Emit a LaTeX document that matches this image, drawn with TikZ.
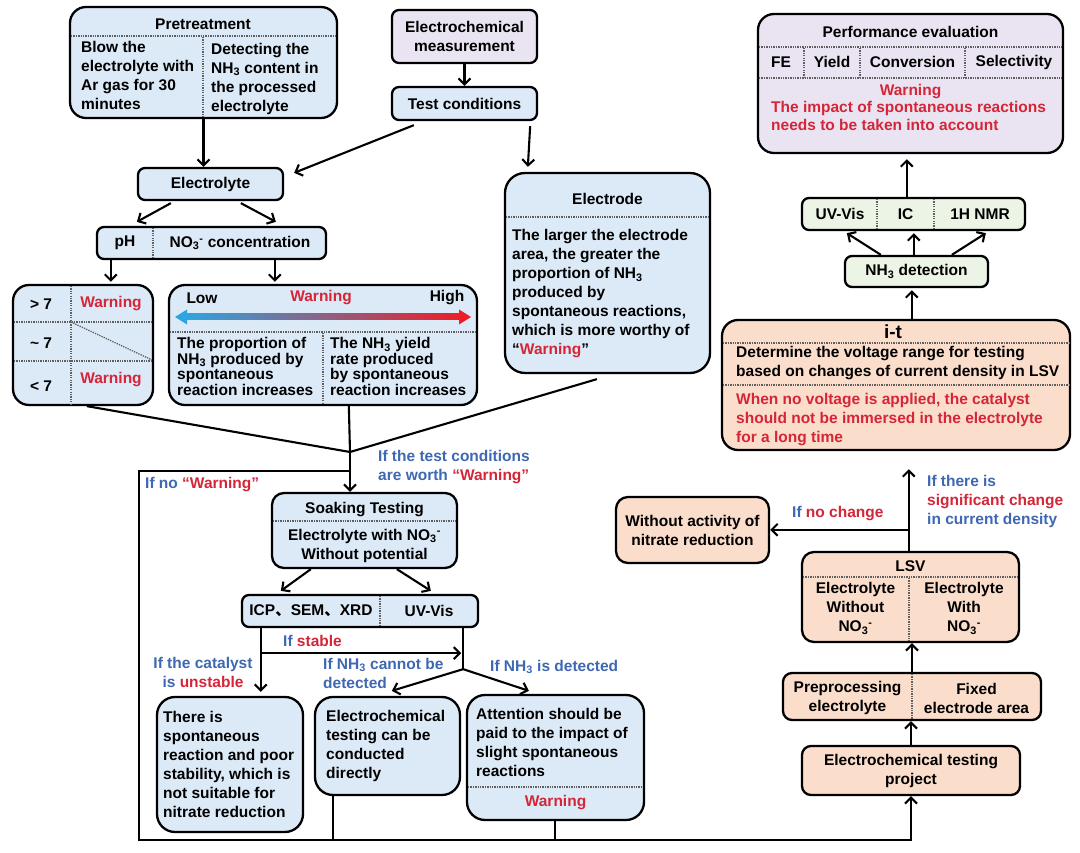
\documentclass[tikz,border=0pt]{standalone}
\usepackage{fontspec}
\setmainfont{Liberation Sans}
\newfontfamily\cjk{Noto Sans CJK SC}
\usetikzlibrary{arrows.meta,calc,fit}
\definecolor{cblue}{RGB}{220,233,246}
\definecolor{clav}{RGB}{234,228,242}
\definecolor{cpeach}{RGB}{251,221,203}
\definecolor{cgreen}{RGB}{236,244,229}
\definecolor{cred}{RGB}{212,38,56}
\definecolor{clab}{RGB}{62,104,178}
\definecolor{dgray}{RGB}{95,95,95}
\definecolor{gl}{RGB}{45,165,225}
\definecolor{gm}{RGB}{165,100,165}
\definecolor{gr}{RGB}{236,30,40}
\newcommand\fs{\fontsize{15.5}{19}\selectfont\bfseries}
\newcommand\fsb{\fontsize{15.5}{15.7}\selectfont\bfseries}
\newcommand\fsr{\fontsize{15.5}{18}\selectfont\bfseries}
\newcommand\NHt{NH\textsubscript{3}}
\newcommand\NOt{NO\textsubscript{3}\textsuperscript{-}}
\begin{document}
\begin{tikzpicture}[x=1pt,y=-1pt,
  bxs/.style={draw=black, line width=2.3pt, inner sep=0pt, rounded corners=7pt},
  bigr/.style={rounded corners=16pt},
  fb/.style={fill=cblue}, fl/.style={fill=clav}, fp/.style={fill=cpeach}, fg/.style={fill=cgreen},
  tx/.style={inner sep=0pt, font=\fs, text=black},
  tl/.style={tx, align=left, anchor=west},
  tc/.style={tx, align=center},
  lab/.style={text=clab},
  dv/.style={draw=dgray, line width=1.3pt, dash pattern=on 1.3pt off 1.1pt},
  arr/.style={draw=black, line width=2.1pt, -{Straight Barb[length=6pt,width=12pt]}},
  ln/.style={draw=black, line width=2.1pt}
]
\fill[white] (0,0) rectangle (1080,853);
\useasboundingbox (0,0) rectangle (1080,853);

% ---------- Pretreatment
\node[bxs,fb,bigr,fit={(70,7)(337,118)}] (pre) {};
\draw[dv] (71,36) -- (336,36);
\draw[dv] (203,37) -- (203,117);
\node[tc] (preT) at (203,24) {Pretreatment};
\node[tl] (preL) at (81,75.5) {Blow the\\electrolyte with\\Ar gas for 30\\minutes};
\node[tl] (preR) at (211,78.5) {Detecting the\\\NHt{} content in\\the processed\\electrolyte};

% ---------- Electrochemical measurement / Test conditions
\node[bxs,fl,fit={(392,10)(537,63)}] (em) {};
\node[tc] (emT) at (em.center) {Electrochemical\\measurement};
\node[bxs,fb,fit={(392,87)(537,120)}] (tcn) {};
\node[tc] (tcT) at (tcn.center) {Test conditions};

% ---------- Electrolyte
\node[bxs,fb,fit={(138,168)(283,200)}] (ely) {};
\node[tc] (elyT) at (ely.center) {Electrolyte};

% ---------- pH / NO3
\node[bxs,fb,fit={(97,227)(326,259)}] (pn) {};
\draw[dv] (153,228) -- (153,258);
\node[tc] (pnA) at (125,243) {pH};
\node[tc] (pnB) at (240,243) {\NOt{} concentration};

% ---------- pH box
\node[bxs,fb,bigr,fit={(13,285)(153,405)}] (phb) {};
\draw[dv] (71,286) -- (71,404);
\draw[dv] (14,322) -- (152,322);
\draw[dv] (14,361) -- (152,361);
\draw[dv] (71,322) -- (152,360);
\node[tc] (ph1) at (41,304) {> 7};
\node[tc,text=cred] (ph1w) at (111,304) {Warning};
\node[tc] (ph2) at (41,343) {\textasciitilde{} 7};
\node[tc] (ph3) at (41,386) {< 7};
\node[tc,text=cred] (ph3w) at (111,380) {Warning};

% ---------- NO3 concentration box
\node[bxs,fb,bigr,fit={(169,285)(477,405)}] (nob) {};
\draw[dv] (170,332) -- (476,332);
\draw[dv] (323,333) -- (323,404);
\shade[left color=gl, middle color=gm, right color=gr] (185,314) rectangle (461,320);
\fill[gl] (175,317) -- (187,309.5) -- (187,324.5) -- cycle;
\fill[gr] (471,317) -- (459,309.5) -- (459,324.5) -- cycle;
\node[tc] (low) at (202,298) {Low};
\node[tc,text=cred] (nobW) at (321,298) {Warning};
\node[tc] (high) at (447,298) {High};
\node[tl,font=\fsb] (nobL) at (177,366.5) {The proportion of\\\NHt{} produced by\\spontaneous\\reaction increases};
\node[tl,font=\fsb] (nobR) at (330,366.5) {The \NHt{} yield\\rate produced\\by spontaneous\\reaction increases};

% ---------- Electrode
\node[bxs,fb,rounded corners=20pt,fit={(505,173)(710,373)}] (elec) {};
\draw[dv] (506,217) -- (709,217);
\node[tc] (elecT) at (607.5,199) {Electrode};
\node[tl] (elecB) at (512,293.5) {The larger the electrode\\area, the greater the\\proportion of \NHt\\produced by\\spontaneous reactions,\\which is more worthy of\\“{\color{cred}Warning}”};

% ---------- Soaking
\coordinate (m) at (350,452);
\coordinate (m1) at (350,471);
\coordinate (lb) at (139,840);
\node[bxs,fb,rounded corners=12pt,fit={(272,493)(457,568)}] (soak) {};
\draw[dv] (273,521) -- (456,521);
\node[tc] (soakT) at (364.5,510) {Soaking Testing};
\node[tc] (soakB) at (364.5,545.5) {Electrolyte with \NOt\\Without potential};

\node[bxs,fb,fit={(242,595)(478,627)}] (icp) {};
\draw[dv] (380,596) -- (380,626);
\node[tc] (icpA) at (311,611) {ICP{\cjk 、}SEM{\cjk 、}XRD};
\node[tc] (icpB) at (429,611) {UV-Vis};

% ---------- bottom boxes
\node[bxs,fb,rounded corners=18pt,fit={(157,697)(303,832)}] (sp) {};
\node[tl] (spT) at (163,764) {There is\\spontaneous\\reaction and poor\\stability, which is\\not suitable for\\nitrate reduction};
\node[bxs,fb,rounded corners=18pt,fit={(315,697)(460,795)}] (ec) {};
\node[tl] (ecT) at (326,745.5) {Electrochemical\\testing can be\\conducted\\directly};
\node[bxs,fb,rounded corners=18pt,fit={(467,695)(644,820)}] (att) {};
\draw[dv] (468,787) -- (643,787);
\node[tl] (attT) at (476,742) {Attention should be\\paid to the impact of\\slight spontaneous\\reactions};
\node[tc,text=cred] (attW) at (555.5,803) {Warning};

% ---------- labels (left)
\node[tl,lab] (l1) at (378,467.5) {If the test conditions\\are worth {\color{cred}“Warning”}};
\node[tl,lab] (l2) at (145,485) {If no {\color{cred}“Warning”}};
\node[tl,lab] (l3) at (283,641) {If {\color{cred}stable}};
\node[tc,lab] (l4) at (203,672.5) {If the catalyst\\is {\color{cred}unstable}};
\node[tl,lab] (l5) at (323,673) {If \NHt{} cannot be\\detected};
\node[tl,lab] (l6) at (490,667) {If \NHt{} is detected};

% ---------- Performance evaluation
\node[bxs,fl,bigr,fit={(758,14)(1063,153)}] (perf) {};
\draw[dv] (759,47) -- (1062,47);
\draw[dv] (759,78) -- (1062,78);
\foreach \x in {804,860,965} \draw[dv] (\x,48) -- (\x,77);
\node[tc] (perfT) at (910.5,32) {Performance evaluation};
\node[tc] (pfa) at (781,62) {FE};
\node[tc] (pfb) at (832,62) {Yield};
\node[tc] (pfc) at (912.5,62) {Conversion};
\node[tc] (pfd) at (1014,62) {Selectivity};
\node[tc,text=cred] (perfW) at (910.5,92) {Warning};
\node[tl,text=cred,font=\fsr] (perfR) at (771,116) {The impact of spontaneous reactions\\needs to be taken into account};

% ---------- detection
\node[bxs,fg,fit={(802,198)(1025,230)}] (uv) {};
\draw[dv] (877,199) -- (877,229);
\draw[dv] (934,199) -- (934,229);
\node[tc] (uvA) at (840,214) {UV-Vis};
\node[tc] (uvB) at (905.5,214) {IC};
\node[tc] (uvC) at (980,214) {1H NMR};
\node[bxs,fg,fit={(845,256)(988,287)}] (nh) {};
\node[tc] (nhT) at (nh.center) {\NHt{} detection};

% ---------- i-t
\node[bxs,fp,bigr,fit={(722,320)(1070,450)}] (it) {};
\draw[dv] (723,343) -- (1069,343);
\draw[dv] (723,385) -- (1069,385);
\node[tc,font=\fontsize{19}{22}\selectfont\bfseries] (itT) at (893,332) {i-t};
\node[tl] (itB) at (736,363.5) {Determine the voltage range for testing\\based on changes of current density in LSV};
\node[tl,text=cred] (itR) at (736,420) {When no voltage is applied, the catalyst\\should not be immersed in the electrolyte\\for a long time};

% ---------- LSV etc
\node[bxs,fp,rounded corners=12pt,fit={(616,497)(769,563)}] (wa) {};
\node[tc] (waT) at (wa.center) {Without activity of\\nitrate reduction};
\node[bxs,fp,rounded corners=12pt,fit={(802,552)(1019,642)}] (lsv) {};
\draw[dv] (803,577) -- (1018,577);
\draw[dv] (909,578) -- (909,641);
\node[tc] (lsvT) at (910.5,566) {LSV};
\node[tc] (lsvA) at (855.5,608.5) {Electrolyte\\Without\\\NOt};
\node[tc] (lsvB) at (964,608.5) {Electrolyte\\With\\\NOt};
\node[bxs,fp,rounded corners=9pt,fit={(783,673)(1041,720)}] (prep) {};
\draw[dv] (912,674) -- (912,719);
\node[tc] (prA) at (847.5,698) {Preprocessing\\electrolyte};
\node[tc] (prB) at (976.5,698) {Fixed\\electrode area};
\node[bxs,fp,rounded corners=9pt,fit={(802,746)(1020,795)}] (proj) {};
\node[tc] (projT) at (proj.center) {Electrochemical testing\\project};
\node[tl,lab] (l7) at (792,514) {If {\color{cred}no change}};
\node[tl,lab] (l8) at (927,501) {If there is\\{\color{cred}significant change}\\in current density};

% ---------- connectors
\draw[arr] (em.south) -- (tcn.north);
\draw[arr] (pre.south) -- (pre.south |- ely.north);
\draw[arr] ($(tcn.south west)+(23,4)$) -- ($(ely.north east)+(10,6)$);
\draw[arr] ($(tcn.south east)+(-8,5)$) -- ($(elec.north west)+(24,-5)$);
\draw[arr] ($(ely.south west)+(34,2)$) -- ($(pn.north west)+(41,-4)$);
\draw[arr] ($(ely.south west)+(104,2)$) -- ($(pn.north west)+(180,-4)$);
\draw[arr] ($(pn.south west)+(15,0)$) -- ($(phb.north west)+(99,-2)$);
\draw[arr] ($(pn.south west)+(179,0)$) -- ($(nob.north west)+(107,-2)$);
\draw[ln] ($(phb.south west)+(75,0)$) -- (m);
\draw[ln] ($(nob.south west)+(181,0)$) -- (m);
\draw[ln] ($(elec.south west)+(93,5)$) -- (m);
\draw[arr] (m) -- (m |- soak.north);
\draw[arr] (m1) -| (lb) -| (proj.south);
\draw[ln] ($(ec.south west)+(19,0)$) -- ++(0,45);
\draw[ln] ($(att.south west)+(89,0)$) -- ++(0,20);
\draw[arr] ($(soak.south west)+(40,0)$) -- ($(icp.north west)+(40,-3)$);
\draw[arr] ($(soak.south west)+(126,0)$) -- ($(icp.north west)+(190,-3)$);
\draw[arr] ($(icp.south west)+(20,0)$) -- ($(sp.north west)+(105,-4)$);
\coordinate (st) at ($(icp.south west)+(20,25)$);
\draw[arr] (st) -- ($(icp.south east)+(-18,25)$);
\coordinate (fk) at ($(icp.south east)+(-16,41)$);
\draw[ln] ($(icp.south east)+(-16,0)$) -- (fk);
\draw[arr] (fk) -- ($(ec.north west)+(78,-5)$);
\draw[arr] (fk) -- ($(att.north west)+(63,-3)$);

\draw[arr] (proj.north) -- (proj.north |- prep.south);
\draw[arr] (prep.north) -- (prep.north |- lsv.south);
\draw[arr] ($(lsv.north west)+(108,0)$) -- ($(it.south west)+(188,18)$);
\coordinate (nc) at ($(lsv.north west)+(108,-21)$);
\draw[arr] (nc) -- (nc -| wa.east);
\draw[arr] ($(it.north west)+(191,0)$) -- ($(nh.south west)+(68,2)$);
\draw[arr] ($(nh.north west)+(37,0)$) -- ($(uv.south west)+(46,2)$);
\draw[arr] ($(nh.north west)+(70,0)$) -- ($(uv.south west)+(113,2)$);
\draw[arr] ($(nh.north west)+(108,0)$) -- ($(uv.south west)+(185,2)$);
\draw[arr] ($(uv.north west)+(106,0)$) -- ($(perf.south west)+(150,5)$);
\end{tikzpicture}
\end{document}
